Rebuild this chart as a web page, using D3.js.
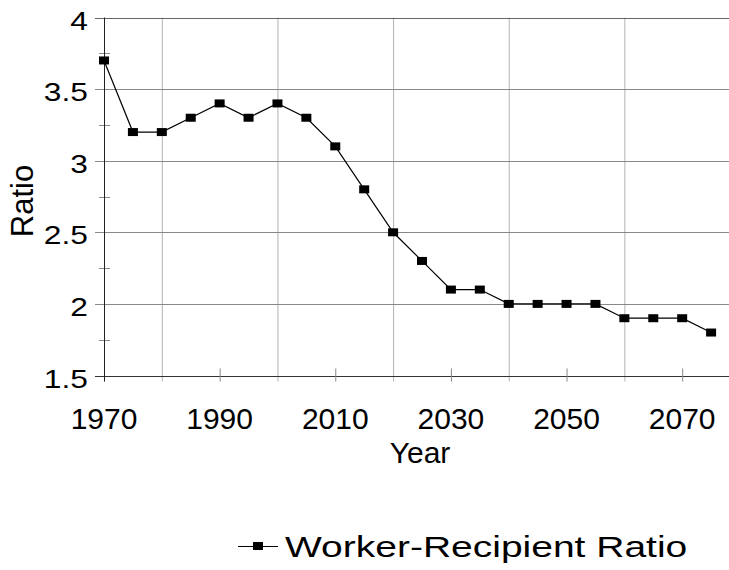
<!DOCTYPE html>
<html lang="en">
<head>
    <meta charset="UTF-8">
    <title>Worker-Recipient Ratio</title>
    <script src="https://d3js.org/d3.v7.min.js"></script>
    <style>
        body {
            margin: 0;
            background-color: white;
        }
        svg text {
            font-family: "Liberation Sans", Arial, sans-serif;
            fill: black;
        }
    </style>
</head>
<body>
    <svg id="chart" width="729" height="570"></svg>
    <script>
        // data
        const years = [1970, 1975, 1980, 1985, 1990, 1995, 2000, 2005, 2010, 2015, 2020,
            2025, 2030, 2035, 2040, 2045, 2050, 2055, 2060, 2065, 2070, 2075];
        const ratios = [3.7, 3.2, 3.2, 3.3, 3.4, 3.3, 3.4, 3.3, 3.1, 2.8, 2.5,
            2.3, 2.1, 2.1, 2.0, 2.0, 2.0, 2.0, 1.9, 1.9, 1.9, 1.8];
        const yTicks = [1.5, 2, 2.5, 3, 3.5, 4];
        const yMinor = [1.75, 2.25, 2.75, 3.25, 3.75];
        const xLabels = [1970, 1990, 2010, 2030, 2050, 2070];
        const xGrid = [1980, 2000, 2020, 2040, 2060, 2080];
        const seriesName = "Worker-Recipient Ratio";

        const svg = d3.select("#chart");

        const x = d3.scaleLinear().domain([1970, 2080]).range([104, 740]);
        const y = d3.scaleLinear().domain([1.5, 4]).range([375.5, 17.5]);

        const plotL = x(1970), plotR = x(2080), plotT = y(4), plotB = y(1.5);

        // vertical grid lines (light), run a little below the axis
        svg.append("g").selectAll("line")
            .data(xGrid)
            .join("line")
            .attr("x1", d => x(d) + 0.5).attr("x2", d => x(d) + 0.5)
            .attr("y1", plotT).attr("y2", plotB + 6)
            .attr("stroke", "#b3b3b3")
            .attr("stroke-width", 1);

        // horizontal grid lines, with the outside tick
        svg.append("g").selectAll("line")
            .data(yTicks)
            .join("line")
            .attr("x1", plotL - 9).attr("x2", plotR)
            .attr("y1", d => Math.round(y(d)) + 0.5).attr("y2", d => Math.round(y(d)) + 0.5)
            .attr("stroke", d => d === 1.5 ? "#333" : (d === 4 ? "#666" : "#888"))
            .attr("stroke-width", 1);

        // minor y ticks crossing the axis
        svg.append("g").selectAll("line")
            .data(yMinor)
            .join("line")
            .attr("x1", plotL - 5).attr("x2", plotL + 6)
            .attr("y1", d => Math.round(y(d)) + 0.5).attr("y2", d => Math.round(y(d)) + 0.5)
            .attr("stroke", "#888");

        // x ticks under the labels
        svg.append("g").selectAll("line")
            .data(xLabels)
            .join("line")
            .attr("x1", d => x(d) + 0.5).attr("x2", d => x(d) + 0.5)
            .attr("y1", plotB - 7).attr("y2", plotB + 6)
            .attr("stroke", "#888");

        // left axis
        svg.append("line")
            .attr("x1", plotL + 0.5).attr("x2", plotL + 0.5)
            .attr("y1", plotT).attr("y2", plotB + 6)
            .attr("stroke", "#222");

        // y tick labels
        svg.append("g").selectAll("text")
            .data(yTicks)
            .join("text")
            .attr("transform", d => `translate(88,${y(d) + 12}) scale(1.27,1)`)
            .attr("text-anchor", "end")
            .attr("font-size", "25px")
            .text(d => d);

        // x tick labels
        svg.append("g").selectAll("text")
            .data(xLabels)
            .join("text")
            .attr("x", d => x(d))
            .attr("y", 429)
            .attr("text-anchor", "middle")
            .attr("font-size", "30px")
            .text(d => d);

        // axis titles
        svg.append("text")
            .attr("x", 420).attr("y", 463)
            .attr("text-anchor", "middle")
            .attr("font-size", "30px")
            .text("Year");

        svg.append("text")
            .attr("transform", "translate(33,201) rotate(-90)")
            .attr("text-anchor", "middle")
            .attr("font-size", "31px")
            .text("Ratio");

        // series line and markers
        const pts = years.map((yr, i) => [yr, ratios[i]]);
        const line = d3.line().x(d => x(d[0])).y(d => y(d[1]));

        svg.append("path")
            .datum(pts)
            .attr("d", line)
            .attr("fill", "none")
            .attr("stroke", "black")
            .attr("stroke-width", 1.2);

        svg.append("g").selectAll("rect")
            .data(pts)
            .join("rect")
            .attr("x", d => x(d[0]) - 5)
            .attr("y", d => y(d[1]) - 4)
            .attr("width", 10)
            .attr("height", 8)
            .attr("fill", "black");

        // legend, low in the frame
        const legend = svg.append("g").attr("transform", "translate(238,546)");
        legend.append("line")
            .attr("x1", 0).attr("x2", 40)
            .attr("y1", 0.5).attr("y2", 0.5)
            .attr("stroke", "black").attr("stroke-width", 1.2);
        legend.append("rect")
            .attr("x", 15).attr("y", -4)
            .attr("width", 10).attr("height", 8)
            .attr("fill", "black");
        legend.append("text")
            .attr("transform", "translate(47,11) scale(1.3,1)")
            .attr("font-size", "30px")
            .text(seriesName);
    </script>
</body>
</html>
